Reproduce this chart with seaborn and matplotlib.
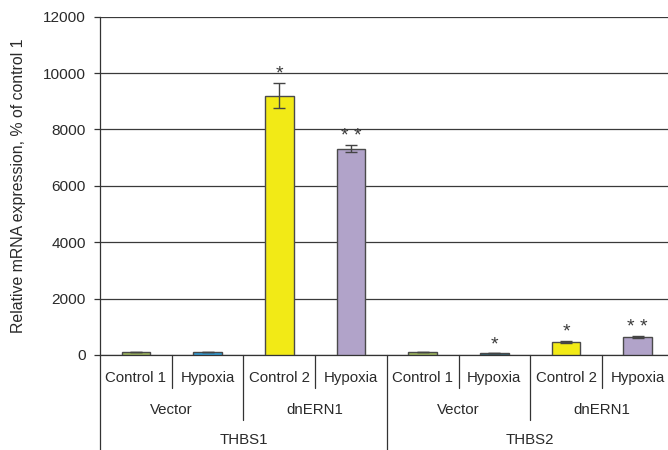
import matplotlib
matplotlib.use("Agg")
import matplotlib.pyplot as plt
import matplotlib.transforms as mtransforms
import numpy as np
import pandas as pd
import seaborn as sns

# ---- data -------------------------------------------------------------
genes = ["THBS1", "THBS2"]
constructs = ["Vector", "dnERN1"]
conditions = ["Control 1", "Hypoxia", "Control 2", "Hypoxia"]
thbs1_values = [100, 100, 9200, 7320]
thbs1_errors = [0, 0, 450, 130]
thbs2_values = [100, 60, 470, 630]
thbs2_errors = [0, 0, 40, 40]
thbs1_marks = ["", "", "*", "**"]
thbs2_marks = ["", "*", "*", "**"]
bar_colors = ["#9db65c", "#2f9bd6", "#f2ea16", "#b1a3c9",
              "#9db65c", "#2b6173", "#f2ea16", "#b1a3c9"]

values = thbs1_values + thbs2_values
errors = thbs1_errors + thbs2_errors
marks = thbs1_marks + thbs2_marks
slots = [f"s{i}" for i in range(len(values))]
df = pd.DataFrame({"slot": slots, "value": values})

# ---- figure -----------------------------------------------------------
sns.set_theme(style="white")
plt.rcParams["font.family"] = ["Liberation Sans", "DejaVu Sans"]
fs = 10.8
txt_color = "#2a2a2a"

fig = plt.figure(figsize=(6.68, 4.5), dpi=100)
ax = fig.add_axes([100 / 668, 95 / 450, 573.6 / 668, 338.3 / 450])

sns.barplot(data=df, x="slot", y="value", hue="slot", palette=bar_colors,
            legend=False, width=0.4, saturation=1, edgecolor="#4a4a4a",
            linewidth=1.0, errorbar=None, ax=ax, zorder=3)

xs = np.arange(len(values))
ax.errorbar(xs, values, yerr=errors, fmt="none", ecolor="#444444",
            elinewidth=1.0, capsize=4, capthick=1.0, zorder=4)
for x, v, e, m in zip(xs, values, errors, marks):
    if m:
        ax.annotate(" ".join(m), (x, v + e), xytext=(0, 0),
                    textcoords="offset points", ha="center", va="bottom",
                    fontsize=14, color="#3a3a3a")

ax.set_xlim(-0.5, len(values) - 0.5)
ax.set_ylim(0, 12000)
ax.set_yticks(np.arange(0, 12001, 2000))
ax.yaxis.grid(True, color="#3a3a3a", linewidth=0.9, zorder=0)
ax.set_axisbelow(True)
ax.tick_params(axis="y", which="both", left=True, length=4, width=0.9,
               color="#333333", labelsize=fs + 0.3, labelcolor=txt_color,
               pad=6)
ax.set_xticks([])
ax.set_xlabel("")
ax.set_ylabel("Relative mRNA expression, % of control 1", fontsize=11.4,
              color=txt_color, labelpad=12)

for side in ["top", "right"]:
    ax.spines[side].set_visible(False)
for side in ["left", "bottom"]:
    ax.spines[side].set_color("#333333")
    ax.spines[side].set_linewidth(0.9)

# ---- multi-level category axis ---------------------------------------
trans = mtransforms.blended_transform_factory(ax.transData, ax.transAxes)
px = 1 / 338.3
row1_y, row2_y, row3_y = -23 * px, -55 * px, -85 * px
sep1_end, sep2_end, sep3_end = -33 * px, -65 * px, -100 * px
line_kw = dict(color="#333333", linewidth=0.9, transform=trans, clip_on=False)
text_kw = dict(transform=trans, ha="center", va="center", fontsize=fs,
               color=txt_color)

labels = conditions * len(genes)
for i, lab in enumerate(labels):
    ax.text(i, row1_y, lab, **text_kw)
for b in range(len(values) + 1):
    edge = b - 0.5
    if b % 4 == 0:
        end = sep3_end
    elif b % 2 == 0:
        end = sep2_end
    else:
        end = sep1_end
    ax.plot([edge, edge], [0, end], **line_kw)

for g, gene in enumerate(genes):
    for c, con in enumerate(constructs):
        ax.text(g * 4 + c * 2 + 0.5, row2_y, con, **text_kw)
    ax.text(g * 4 + 1.5, row3_y, gene, **text_kw)

fig.savefig("out.png", dpi=100)
